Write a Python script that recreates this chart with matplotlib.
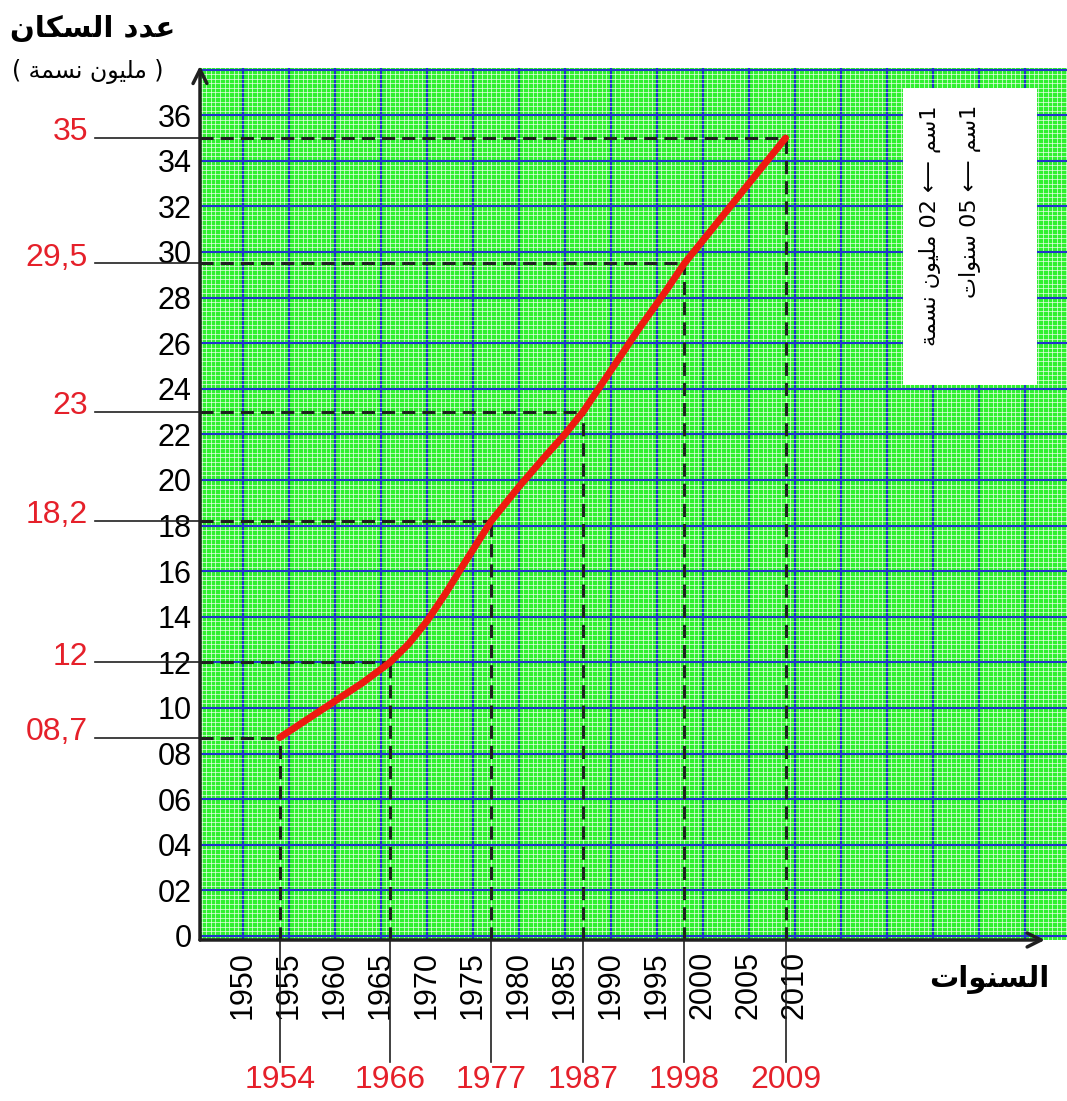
import numpy as np
import matplotlib
matplotlib.use('Agg')
import matplotlib.pyplot as plt
import matplotlib.transforms as mtransforms

# data
years = [1954, 1966, 1977, 1987, 1998, 2009]
pop = [8.7, 12, 18.2, 23, 29.5, 35]
pop_labels = ['08,7', '12', '18,2', '23', '29,5', '35']
year_labels = ['1954', '1966', '1977', '1987', '1998', '2009']

curve_years = [1954, 1957, 1960, 1963, 1966, 1968, 1970, 1972, 1974, 1977,
               1980, 1983, 1985, 1987, 1990, 1993, 1996, 1998, 2001, 2005, 2009]
curve_pop = [8.7, 9.5, 10.3, 11.1, 12.0, 12.8, 13.8, 15.0, 16.3, 18.2,
             19.7, 21.1, 22.0, 23.0, 24.8, 26.6, 28.3, 29.5, 31.0, 33.0, 35.0]

x_ticks = list(range(1950, 2011, 5))
x_tick_labels = [str(v) for v in x_ticks]
y_ticks = list(range(0, 37, 2))
y_tick_labels = ['0'] + ['%02d' % v for v in y_ticks[1:]]

# arabic shaping (isolated, final, initial, medial)
AR_FORMS = {
    'ا': ('\uFE8D', '\uFE8E', None, None),
    'ت': ('\uFE95', '\uFE96', '\uFE97', '\uFE98'),
    'ة': ('\uFE93', '\uFE94', None, None),
    'د': ('\uFEA9', '\uFEAA', None, None),
    'س': ('\uFEB1', '\uFEB2', '\uFEB3', '\uFEB4'),
    'ع': ('\uFEC9', '\uFECA', '\uFECB', '\uFECC'),
    'ك': ('\uFED9', '\uFEDA', '\uFEDB', '\uFEDC'),
    'ل': ('\uFEDD', '\uFEDE', '\uFEDF', '\uFEE0'),
    'م': ('\uFEE1', '\uFEE2', '\uFEE3', '\uFEE4'),
    'ن': ('\uFEE5', '\uFEE6', '\uFEE7', '\uFEE8'),
    'و': ('\uFEED', '\uFEEE', None, None),
    'ي': ('\uFEF1', '\uFEF2', '\uFEF3', '\uFEF4'),
}

def ar(s):
    out = []
    for i, c in enumerate(s):
        if c not in AR_FORMS:
            out.append(c)
            continue
        f = AR_FORMS[c]
        prev = s[i-1] if i > 0 else ''
        nxt = s[i+1] if i+1 < len(s) else ''
        jp = prev in AR_FORMS and AR_FORMS[prev][2] is not None
        jn = f[2] is not None and nxt in AR_FORMS
        if jp and jn:
            out.append(f[3])
        elif jp:
            out.append(f[1])
        elif jn:
            out.append(f[2])
        else:
            out.append(f[0])
    return ''.join(reversed(out))

W, H = 1067, 1101
X0, X1 = 1945.33, 2039.6
Y0, Y1 = -0.18, 38.07
RED = '#e5202a'
DARK = '#202020'

fig = plt.figure(figsize=(W/100, H/100), dpi=100)
ax = fig.add_axes([200/W, 1-940/H, 867/W, 872/H])
ax.set_facecolor('#30f030')
ax.set_xlim(X0, X1)
ax.set_ylim(Y0, Y1)

# grid paper
major_x = list(range(1950, 2036, 5))
ax.set_xticks(major_x)
ax.set_xticklabels(x_tick_labels + [''] * (len(major_x) - len(x_ticks)),
                   rotation=90, fontsize=22, family='Liberation Sans')
ax.set_yticks(list(range(0, 39, 2)))
ax.set_yticklabels(y_tick_labels + [''], fontsize=22, family='Liberation Sans')
ax.set_xticks(np.arange(1945.5, 2039.6, 0.5), minor=True)
ax.set_yticks(np.arange(0, 38.1, 0.2), minor=True)
ax.grid(which='minor', color='white', lw=0.6, alpha=0.75)
ax.grid(which='major', color='#2233cc', lw=1.5)
ax.set_axisbelow(True)
ax.tick_params(which='both', length=0)
ax.tick_params(axis='x', pad=8)
ax.tick_params(axis='y', pad=6)
for side in ['top', 'right', 'left', 'bottom']:
    ax.spines[side].set_visible(False)

# axes with arrows
ax.annotate('', xy=(2037.2, Y0), xytext=(X0, Y0), annotation_clip=False,
            arrowprops=dict(arrowstyle='->', lw=2.5, color=DARK, mutation_scale=25,
                            shrinkA=0, shrinkB=0))
ax.annotate('', xy=(X0, Y1 + 0.1), xytext=(X0, Y0), annotation_clip=False,
            arrowprops=dict(arrowstyle='->', lw=2.5, color=DARK, mutation_scale=25,
                            shrinkA=0, shrinkB=0))

# guide lines
ty = mtransforms.blended_transform_factory(fig.transFigure, ax.transData)
tx = mtransforms.blended_transform_factory(ax.transData, fig.transFigure)
for yr, p, pl, yl in zip(years, pop, pop_labels, year_labels):
    l, = ax.plot([X0, yr], [p, p], color=DARK, lw=2.2)
    l.set_dashes([4.3, 2.3])
    l, = ax.plot([yr, yr], [Y0, p], color=DARK, lw=2.2)
    l.set_dashes([4.3, 2.3])
    ax.plot([95/W, 200/W], [p, p], color=DARK, lw=1.2, transform=ty, clip_on=False)
    ax.plot([yr, yr], [1-940/H, 1-1062/H], color=DARK, lw=1.2, transform=tx, clip_on=False)
    ax.annotate(pl, xy=(88/W, p), xycoords=ty, xytext=(0, 4), textcoords='offset points',
                ha='right', va='center', color=RED, fontsize=23, family='Liberation Sans')
    ax.text(yr, 1-1080/H, yl, transform=tx, ha='center', va='center', color=RED,
            fontsize=23, family='Liberation Sans')

ax.plot(curve_years, curve_pop, color='#ee1a10', lw=5, solid_capstyle='round',
        solid_joinstyle='round', zorder=5)

# legend box
fig.patches.append(plt.Rectangle((903/W, 1-385/H), 134/W, 297/H, transform=fig.transFigure,
                                 facecolor='white', edgecolor='none', zorder=3))
fig.text(930/W, 1-105/H, ar('مليون نسمة') + ' 02 \u27F5 ' + ar('سم') + '1', rotation=90,
         ha='center', va='top', fontsize=16, family=['DejaVu Sans'], zorder=4)
fig.text(970/W, 1-105/H, ar('سنوات') + ' 05 \u27F5 ' + ar('سم') + '1', rotation=90,
         ha='center', va='top', fontsize=16, family=['DejaVu Sans'], zorder=4)

# axis titles
fig.text(93/W, 1-29/H, ar('عدد السكان'), ha='center', va='center', fontsize=21,
         fontweight='bold', family='DejaVu Sans')
fig.text(88/W, 1-72/H, '( ' + ar('مليون نسمة') + ' )', ha='center', va='center',
         fontsize=17, family='DejaVu Sans')
fig.text(989/W, 1-980/H, ar('السنوات'), ha='center', va='center', fontsize=21,
         fontweight='bold', family='DejaVu Sans')

fig.savefig('out.png', dpi=100)
